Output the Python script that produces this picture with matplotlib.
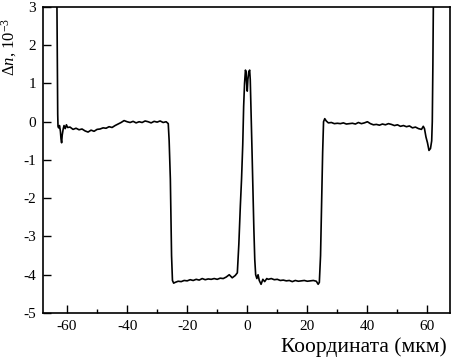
import matplotlib
matplotlib.use("Agg")
import matplotlib.pyplot as plt

plt.rcParams["font.family"] = ["Liberation Serif", "DejaVu Serif"]
plt.rcParams["mathtext.fontset"] = "custom"
plt.rcParams["mathtext.rm"] = "Liberation Serif"
plt.rcParams["mathtext.it"] = "Liberation Serif:italic"
plt.rcParams["axes.unicode_minus"] = False

# profile of the refractive index change
edge_left_x = [-63.4, -63.2, -63.1, -63.0, -62.8, -62.5, -62.2, -62.0, -61.8,
               -61.6, -61.3, -61.0, -60.6, -60.2, -59.8]
edge_left_y = [3.5, 1.5, 0.2, -0.12, -0.16, -0.1, -0.25, -0.45, -0.55,
               -0.35, -0.2, -0.1, -0.18, -0.08, -0.15]

shelf_left_x = [-59, -58, -57, -56, -55, -54, -53, -52, -51, -50, -49, -48,
                -47, -46, -45, -44, -43, -42, -41, -40, -39, -38, -37, -36,
                -35, -34, -33, -32, -31, -30, -29, -28, -27, -26.3]
shelf_left_y = [-0.14, -0.2, -0.17, -0.21, -0.19, -0.24, -0.27, -0.22, -0.25,
                -0.2, -0.19, -0.16, -0.17, -0.13, -0.15, -0.1, -0.06, -0.02,
                0.03, 0.0, -0.02, 0.01, -0.03, 0.0, -0.02, 0.02, 0.0, -0.03,
                0.01, -0.01, 0.02, -0.02, 0.0, -0.05]

trench_left_x = [-26.0, -25.6, -25.2, -24.9, -24.5, -24, -23, -22, -21, -20,
                 -19, -18, -17, -16, -15, -14, -13, -12, -11, -10, -9, -8,
                 -7, -6, -5, -4, -3.3]
trench_left_y = [-0.5, -1.5, -3.5, -4.15, -4.22, -4.2, -4.17, -4.18, -4.15,
                 -4.16, -4.13, -4.15, -4.12, -4.14, -4.1, -4.13, -4.11, -4.12,
                 -4.1, -4.12, -4.09, -4.1, -4.06, -4.0, -4.08, -4.02, -3.95]

core_x = [-2.8, -2.3, -1.9, -1.5, -1.2, -0.9, -0.6, -0.4, -0.2, 0.0, 0.2,
          0.5, 0.8, 1.0, 1.3, 1.6, 1.9, 2.2, 2.5, 2.8]
core_y = [-3.2, -2.2, -1.5, -0.6, 0.4, 1.0, 1.35, 1.3, 1.0, 0.8, 1.1, 1.3,
          1.35, 1.1, 0.2, -0.8, -1.8, -2.8, -3.6, -4.0]

trench_right_x = [3.2, 3.6, 4.0, 4.6, 5.2, 5.8, 6.5, 7, 8, 9, 10, 11, 12, 13,
                  14, 15, 16, 17, 18, 19, 20, 21, 22, 23, 23.6, 24.0, 24.4,
                  24.8, 25.1, 25.4, 25.8, 26.3]
trench_right_y = [-4.1, -4.0, -4.15, -4.25, -4.12, -4.18, -4.1, -4.12, -4.1,
                  -4.13, -4.12, -4.15, -4.14, -4.16, -4.15, -4.18, -4.15,
                  -4.17, -4.16, -4.15, -4.17, -4.16, -4.15, -4.17, -4.25,
                  -4.2, -3.5, -2.0, -0.8, 0.0, 0.08, 0.02]

shelf_right_x = [27, 28, 29, 30, 31, 32, 33, 34, 35, 36, 37, 38, 39, 40, 41,
                 42, 43, 44, 45, 46, 47, 48, 49, 50, 51, 52, 53, 54, 55, 56,
                 57, 58]
shelf_right_y = [-0.03, -0.02, -0.05, -0.04, -0.05, -0.03, -0.06, -0.05,
                 -0.04, -0.06, -0.02, -0.05, -0.03, 0.0, -0.05, -0.08, -0.07,
                 -0.09, -0.06, -0.08, -0.05, -0.07, -0.1, -0.08, -0.12, -0.1,
                 -0.13, -0.11, -0.16, -0.14, -0.18, -0.2]

edge_right_x = [58.6, 59.0, 59.5, 60.0, 60.5, 61.0, 61.4, 61.6, 61.8, 62.0]
edge_right_y = [-0.12, -0.18, -0.4, -0.55, -0.75, -0.7, -0.5, 0.0, 1.5, 3.5]

x_ticks = [-60, -40, -20, 0, 20, 40, 60]
y_ticks = [3, 2, 1, 0, -1, -2, -3, -4, -5]


def build_profile():
    xs = (edge_left_x + shelf_left_x + trench_left_x + core_x +
          trench_right_x + shelf_right_x + edge_right_x)
    ys = (edge_left_y + shelf_left_y + trench_left_y + core_y +
          trench_right_y + shelf_right_y + edge_right_y)
    return xs, ys


fig = plt.figure(figsize=(4.53, 3.6), dpi=100)
ax = fig.add_axes([0.0949, 0.1306, 0.8985, 0.85])

xs, ys = build_profile()
ax.plot(xs, ys, color="black", linewidth=1.2)

ax.set_xlim(-68, 67.5)
ax.set_ylim(-5, 3)
ax.set_xticks(x_ticks)
ax.set_xticks(range(-60, 61, 10), minor=True)
ax.set_yticks(y_ticks)

ax.tick_params(which="both", direction="in", top=False, right=False,
               labelsize=11, width=1)
ax.tick_params(which="major", length=6)
ax.tick_params(which="minor", length=3)
ax.tick_params(axis="x", pad=5)
ax.tick_params(axis="y", pad=5)

for spine in ax.spines.values():
    spine.set_linewidth(1.2)

ax.set_ylabel("Δ$n$, 10$^{-3}$", fontsize=12)
ax.yaxis.set_label_coords(-0.06, 0.87)
ax.set_xlabel("Координата (мкм)", fontsize=15.5, ha="right")
ax.xaxis.set_label_coords(0.993, -0.08)

fig.savefig("out.png", dpi=100)
